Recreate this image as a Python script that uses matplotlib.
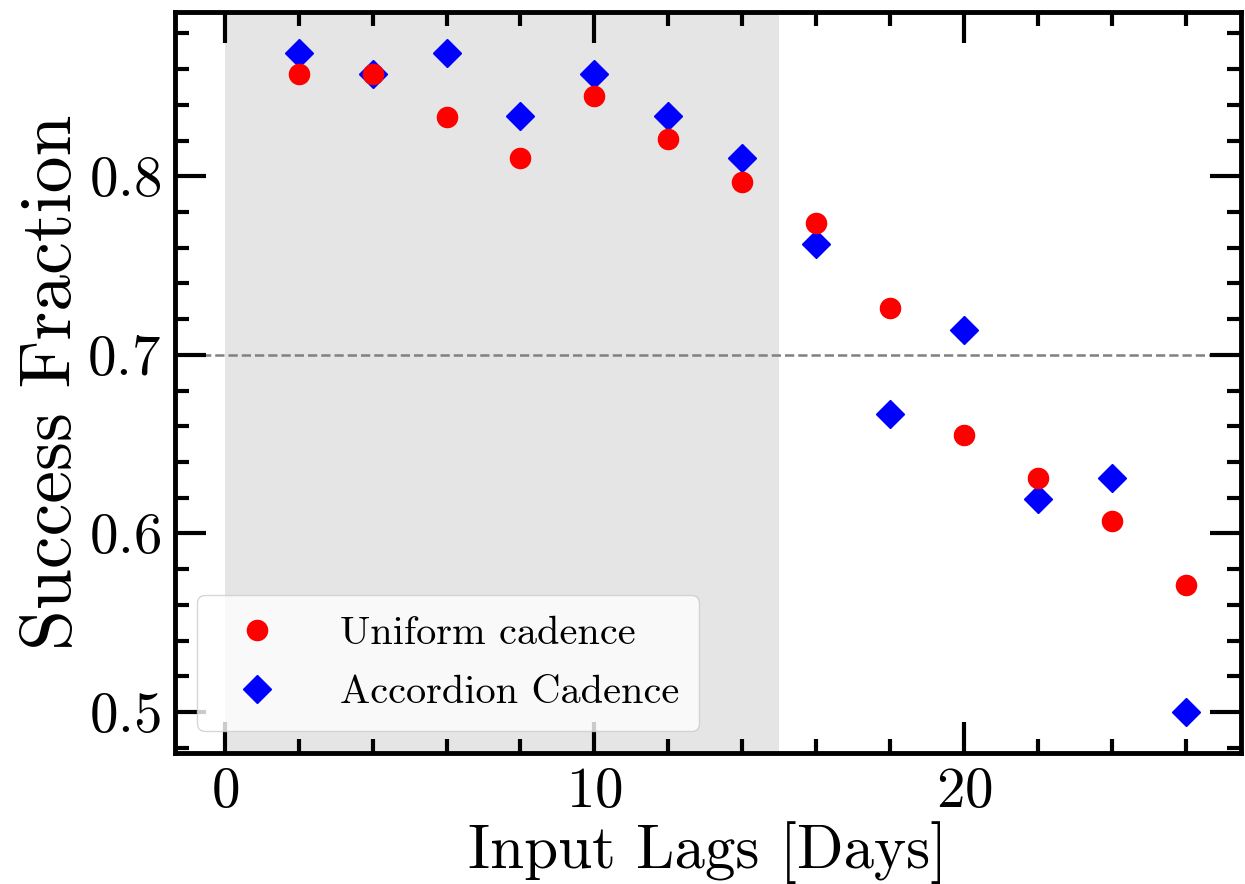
import numpy as np
from matplotlib import pyplot as plt
from matplotlib.ticker import MultipleLocator

plt.rcParams['font.family'] = 'serif'
plt.rcParams['font.serif'] = ['cmr10']
plt.rcParams['mathtext.fontset'] = 'cm'
plt.rcParams['axes.formatter.use_mathtext'] = True

# входные лаги (дни)
lags = [2, 4, 6, 8, 10, 12, 14, 16, 18, 20, 22, 24, 26]
# доля успешных восстановлений
uniform = [0.857, 0.857, 0.833, 0.810, 0.845, 0.821, 0.797,
           0.774, 0.726, 0.655, 0.631, 0.607, 0.571]
accordion = [0.869, 0.857, 0.869, 0.834, 0.857, 0.834, 0.810,
             0.762, 0.667, 0.714, 0.619, 0.631, 0.500]

fig = plt.figure(figsize=(12.45, 8.84), dpi=100)
ax = fig.add_axes([175/1245, 1-753/884, (1241-175)/1245, (753-12)/884])

ax.axvspan(0, 15, color='#e5e5e5', lw=0, zorder=0)
ax.axhline(0.7, color='gray', ls='--', lw=1.8, zorder=1)
ax.plot(lags, uniform, 'o', color='red', ms=14.5, ls='none',
        label='Uniform cadence', zorder=3)
ax.plot(lags, accordion, 'D', color='blue', ms=14, ls='none',
        label='Accordion Cadence', zorder=2)

ax.set_xlim(-1.35, 27.5)
ax.set_ylim(0.477, 0.892)
ax.xaxis.set_major_locator(MultipleLocator(10))
ax.xaxis.set_minor_locator(MultipleLocator(2))
ax.yaxis.set_major_locator(MultipleLocator(0.1))
ax.yaxis.set_minor_locator(MultipleLocator(0.02))
ax.tick_params(which='both', direction='in', top=True, right=True,
               width=3, labelsize=41, pad=10)
ax.tick_params(which='major', length=22)
ax.tick_params(which='minor', length=10)
for s in ax.spines.values():
    s.set_linewidth(3.5)

ax.set_xlabel('Input Lags [Days]', fontsize=44, labelpad=2)
ax.set_ylabel('Success Fraction', fontsize=53, labelpad=2)

ax.legend(loc='lower left', fontsize=29, handletextpad=1.05,
          borderpad=0.5, labelspacing=0.57, framealpha=0.8,
          edgecolor='#cccccc', borderaxespad=0,
          bbox_to_anchor=(0.0206, 0.0297))

fig.savefig('out.png', dpi=100)
